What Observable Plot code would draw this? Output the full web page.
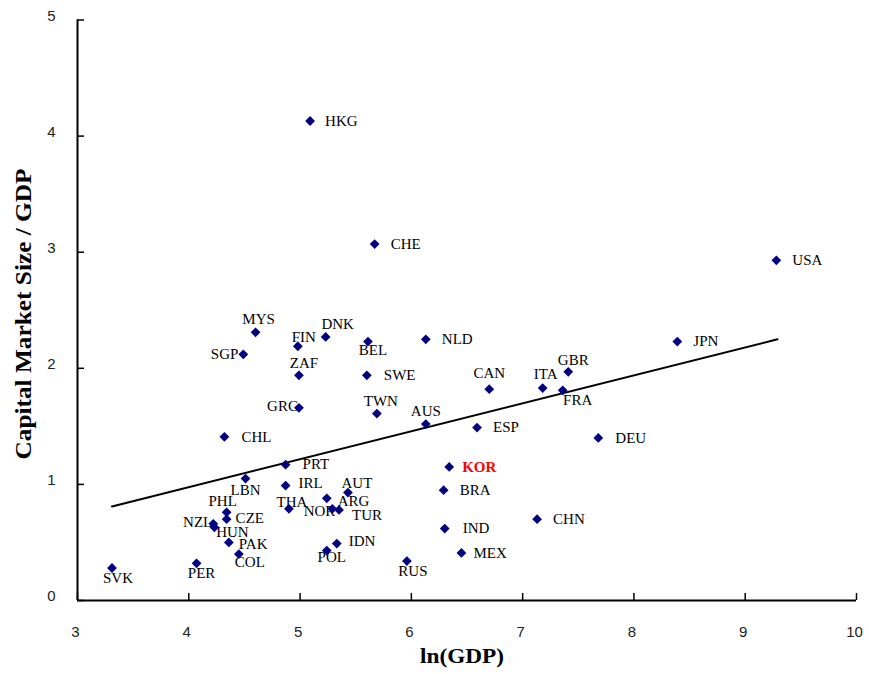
<!DOCTYPE html>
<html>
<head>
<meta charset="utf-8">
<script src="https://cdn.jsdelivr.net/npm/d3@7"></script>
<script src="https://cdn.jsdelivr.net/npm/@observablehq/plot@0.6"></script>
<style>
  html, body { margin: 0; padding: 0; background: #fff; }
</style>
</head>
<body>
<div id="chart"></div>
<script>
// ---- data ----
const countries = ["HKG","CHE","USA","MYS","DNK","FIN","BEL","NLD","SGP","JPN",
  "GBR","ZAF","SWE","CAN","ITA","FRA","GRC","TWN","AUS","ESP",
  "CHL","DEU","PRT","KOR","LBN","IRL","BRA","AUT","ARG","NOR",
  "TUR","THA","PHL","CZE","NZL","HUN","PAK","COL","PER","SVK",
  "IDN","POL","IND","MEX","RUS","CHN"];
const lnGDP = [5.09,5.67,9.28,4.60,5.23,4.98,5.61,6.13,4.49,8.39,
  7.41,4.99,5.60,6.70,7.18,7.36,4.99,5.69,6.13,6.59,
  4.32,7.68,4.87,6.34,4.51,4.87,6.29,5.43,5.24,5.29,
  5.35,4.90,4.34,4.34,4.22,4.23,4.36,4.45,4.07,3.31,
  5.33,5.24,6.30,6.45,5.96,7.13];
const capSize = [4.13,3.07,2.93,2.31,2.27,2.19,2.23,2.25,2.12,2.23,
  1.97,1.94,1.94,1.82,1.83,1.81,1.66,1.61,1.52,1.49,
  1.41,1.40,1.17,1.15,1.05,0.99,0.95,0.93,0.88,0.79,
  0.78,0.79,0.76,0.70,0.66,0.63,0.50,0.40,0.32,0.28,
  0.49,0.43,0.62,0.41,0.34,0.70];
const trendX = [3.31, 9.29];
const trendY = [0.81, 2.25];
const xTicks = [3,4,5,6,7,8,9,10];
const yTicks = [0,1,2,3,4,5];
const highlight = "KOR";

// ---- label placement (style only) ----
const labelPlace = {
  HKG:[15,0,"start"], CHE:[16,0,"start"], USA:[16,0,"start"], NLD:[16,0,"start"],
  SWE:[17,0,"start"], CHL:[17,0,"start"], ESP:[16,0,"start"], DEU:[17,0,"start"],
  KOR:[13,0,"start"], JPN:[16,0,"start"], PRT:[17,0,"start"], IRL:[13,-2,"start"],
  BRA:[16,0,"start"], IND:[18,0,"start"], MEX:[12,0,"start"], IDN:[12,-2,"start"],
  PAK:[10,2,"start"], CZE:[9,-1,"start"], CHN:[16,0,"start"], ARG:[11,3,"start"],
  TUR:[13,5,"start"],
  MYS:[3,-13,"middle"], DNK:[12,-13,"middle"], FIN:[6,-9,"middle"], ZAF:[5,-12,"middle"],
  TWN:[4,-12,"middle"], AUS:[0,-13,"middle"], CAN:[0,-16,"middle"], ITA:[3,-14,"middle"],
  GBR:[5,-12,"middle"], AUT:[9,-9,"middle"], THA:[3,-7,"middle"], PHL:[-4,-11,"middle"],
  BEL:[5,9,"middle"], FRA:[15,10,"middle"], LBN:[0,12,"middle"], HUN:[18,5,"middle"],
  COL:[11,8,"middle"], PER:[5,10,"middle"], SVK:[6,10,"middle"], POL:[5,7,"middle"],
  RUS:[6,10,"middle"],
  SGP:[-5,0,"end"], GRC:[-1,-2,"end"], NOR:[3,2,"end"], NZL:[-1,-2,"end"]
};

const rows = countries.map((c, i) => ({c, x: lnGDP[i], y: capSize[i]}));
const trend = trendX.map((x, i) => ({x, y: trendY[i]}));

const labelMarks = rows.map(r => {
  const [dx, dy, anchor] = labelPlace[r.c] || [15, 0, "start"];
  const hi = r.c === highlight;
  return Plot.text([r], {
    x: "x", y: "y", text: "c", dx, dy, textAnchor: anchor,
    fontFamily: "'Liberation Serif','Times New Roman',serif",
    fontSize: 15,
    fill: hi ? "#ff0000" : "#000",
    fontWeight: hi ? "bold" : "normal"
  });
});

const chart = Plot.plot({
  width: 869,
  height: 674,
  marginLeft: 77,
  marginRight: 13,
  marginTop: 19.5,
  marginBottom: 74,
  style: {background: "#fff", fontFamily: "'Liberation Sans',Arial,sans-serif", fontSize: "15px"},
  x: {domain: [3, 10], label: null},
  y: {domain: [0, 5], label: null},
  marks: [
    Plot.axisX(xTicks, {tickSize: 0, tickPadding: 26, dx: -2, label: null, fill: "#222", fontSize: 15, tickFormat: "d"}),
    Plot.axisY(yTicks, {tickSize: 0, tickPadding: 22, dy: -4, label: null, fill: "#222", fontSize: 15, tickFormat: "d"}),
    Plot.ruleX(xTicks, {x: d => d, y1: 0, y2: 0, insetTop: -7, stroke: "#000", strokeWidth: 1.5}),
    Plot.ruleY(yTicks, {y: d => d, x1: 3, x2: 3, insetRight: -7, stroke: "#000", strokeWidth: 1.5}),
    Plot.ruleX([3], {stroke: "#000", strokeWidth: 2}),
    Plot.ruleY([0], {stroke: "#000", strokeWidth: 2}),
    Plot.line(trend, {x: "x", y: "y", stroke: "#000", strokeWidth: 2}),
    ...labelMarks,
    Plot.dot(rows, {x: "x", y: "y", symbol: "diamond2", r: 4.4, fill: "#000080", stroke: "none"})
  ]
});

const svg = d3.select(chart);
svg.append("text")
  .attr("transform", "translate(31,314) rotate(-90)")
  .attr("text-anchor", "middle")
  .attr("font-family", "'Liberation Serif','Times New Roman',serif")
  .attr("font-weight", "bold")
  .attr("font-size", 23)
  .attr("textLength", 291)
  .attr("lengthAdjust", "spacingAndGlyphs")
  .attr("fill", "#000")
  .text("Capital Market Size / GDP");
svg.append("text")
  .attr("x", 462).attr("y", 663)
  .attr("text-anchor", "middle")
  .attr("font-family", "'Liberation Serif','Times New Roman',serif")
  .attr("font-weight", "bold")
  .attr("font-size", 20)
  .attr("textLength", 84)
  .attr("lengthAdjust", "spacingAndGlyphs")
  .attr("fill", "#000")
  .text("ln(GDP)");

document.getElementById("chart").appendChild(chart);
</script>
</body>
</html>
